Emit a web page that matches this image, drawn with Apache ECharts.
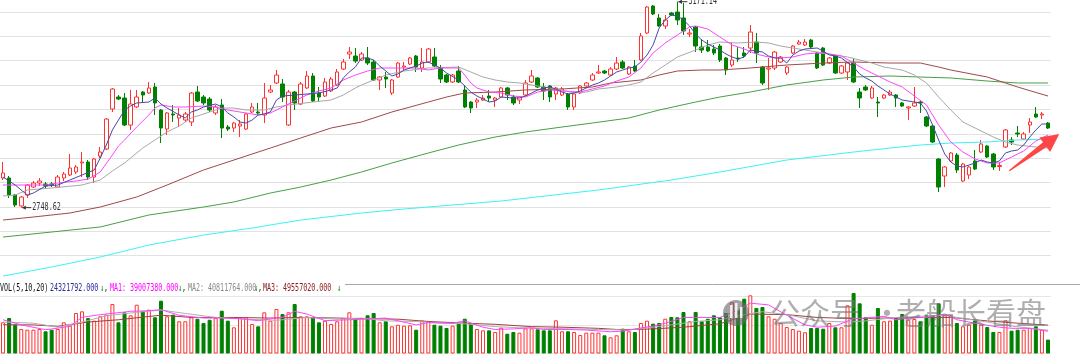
<!DOCTYPE html>
<html><head><meta charset="utf-8">
<script src="https://cdn.jsdelivr.net/npm/echarts@6/dist/echarts.min.js"></script>
<style>html,body{margin:0;padding:0;background:#fff;}#c{width:1080px;height:358px;}</style>
</head><body><div id="c"></div>
<script>
// ---- price candles (index 0..172) ----
const opens = [2809.4,2809.4,2774.5,2752.0,2774.5,2790.9,2799.1,2797.1,2797.1,2790.9,
2809.4,2815.6,2821.7,2840.2,2842.2,2811.4,2854.5,2868.9,2951.0,2975.6,
2973.5,2918.1,2955.1,2985.8,2983.8,2996.1,2948.9,2909.9,2940.7,2932.5,
2928.4,2924.3,2985.8,2975.6,2971.5,2942.8,2959.2,2914.0,2912.0,2916.1,
2909.9,2944.8,2944.8,2938.7,2985.8,3004.3,3002.3,2918.1,2985.8,2961.2,
2994.1,3018.7,2983.8,2977.6,2987.9,3000.2,3033.0,3063.8,3059.7,3051.5,
3055.6,3047.4,3010.5,3016.6,2983.8,3016.6,3037.1,3043.3,3059.7,3035.1,
3047.4,3057.7,3035.1,3020.7,3006.4,3028.9,2990.0,2965.3,2965.3,2969.4,
2977.6,2969.4,2975.6,2994.1,2975.6,2969.4,2979.7,3006.4,3014.6,2996.1,
2998.2,2981.7,2979.7,2981.7,2955.1,2983.8,2998.2,3010.5,3024.8,3028.9,
3020.7,3033.0,3047.4,3022.8,3039.2,3051.5,3106.9,3162.3,3137.7,3121.3,
3147.9,3150.0,3137.7,3104.8,3119.2,3078.2,3078.2,3074.1,3080.2,3055.6,
3041.2,3055.6,3065.9,3076.1,3088.4,3037.1,3033.0,3035.1,3047.4,3024.8,
3065.9,3084.3,3082.3,3092.5,3065.9,3076.1,3045.3,3059.7,3024.8,3026.9,
3045.3,2985.8,2996.1,2973.5,2965.3,2973.5,2979.7,2979.7,2963.3,2953.0,
2957.1,2965.3,2934.6,2916.1,2848.4,2813.5,2844.3,2856.6,2803.2,2815.6,
2844.3,2862.7,2875.1,2858.6,2833.0,2873.0,2887.4,2901.7,2889.4,2918.1,
2940.7,2938.7,2922.2];
const closes = [2819.7,2774.5,2754.0,2770.4,2795.0,2799.1,2803.2,2793.0,2795.0,2811.4,
2817.6,2829.9,2832.0,2842.2,2811.4,2848.4,2862.7,2930.4,2992.0,2971.5,
2918.1,2961.2,2975.6,2979.7,2994.1,2963.3,2912.0,2942.8,2938.7,2938.7,
2940.7,2983.8,2967.4,2963.3,2948.9,2955.1,2912.0,2909.9,2922.2,2920.2,
2940.7,2955.1,2942.8,2973.5,2990.0,3020.7,2975.6,2985.8,2963.3,3002.3,
3018.7,2967.4,2975.6,3006.4,3012.5,3026.9,3047.4,3067.9,3049.4,3063.8,
3045.3,3010.5,3016.6,3012.5,3010.5,3045.3,3039.2,3055.6,3037.1,3047.4,
3074.1,3039.2,3012.5,3006.4,3020.7,3006.4,2955.1,2953.0,2969.4,2973.5,
2973.5,2973.5,2994.1,2979.7,2963.3,2975.6,3004.3,3018.7,2996.1,2987.9,
2975.6,2994.1,2992.0,2955.1,2981.7,2998.2,3004.3,3020.7,3026.9,3024.8,
3033.0,3045.3,3035.1,3037.1,3028.9,3100.7,3160.2,3145.9,3121.3,3133.6,
3143.8,3133.6,3111.0,3106.9,3080.2,3072.0,3070.0,3065.9,3051.5,3031.0,
3051.5,3053.5,3059.7,3108.9,3065.9,3004.3,3035.1,3067.9,3057.7,3037.1,
3080.2,3088.4,3088.4,3078.2,3035.1,3041.2,3055.6,3024.8,3039.2,3045.3,
3006.4,2973.5,2990.0,2994.1,2963.3,2979.7,2985.8,2973.5,2957.1,2955.1,
2963.3,2963.3,2916.1,2883.3,2790.9,2832.0,2860.7,2825.8,2838.1,2832.0,
2827.9,2879.2,2852.5,2832.0,2835.1,2907.9,2883.3,2899.7,2899.7,2924.3,
2934.6,2940.7,2912.0];
const lows = [2805.3,2768.4,2749.9,2748.62,2768.4,2788.9,2793.0,2788.9,2790.9,2788.9,
2803.2,2813.5,2817.6,2811.4,2805.3,2799.1,2850.4,2866.8,2944.8,2969.4,
2916.1,2907.9,2953.0,2965.3,2981.7,2938.7,2881.2,2897.6,2924.3,2914.0,
2924.3,2916.1,2965.3,2959.2,2944.8,2938.7,2891.5,2905.8,2903.8,2893.5,
2907.9,2942.8,2938.7,2922.2,2983.8,3002.3,2965.3,2916.1,2948.9,2959.2,
2992.0,2965.3,2965.3,2975.6,2985.8,2998.2,3031.0,3053.5,3045.3,3049.4,
3041.2,3008.4,2990.0,2994.1,2979.7,3014.6,3031.0,3041.2,3026.9,3026.9,
3045.3,3037.1,3004.3,3004.3,3004.3,3004.3,2953.0,2942.8,2953.0,2967.4,
2965.3,2955.1,2973.5,2969.4,2959.2,2961.2,2977.6,3004.3,2994.1,2969.4,
2965.3,2969.4,2977.6,2948.9,2948.9,2981.7,2996.1,3008.4,3022.8,3022.8,
3018.7,3031.0,3033.0,3020.7,3026.9,3049.4,3104.8,3143.8,3119.2,3115.1,
3141.8,3123.3,3102.8,3098.7,3067.9,3065.9,3067.9,3061.8,3047.4,3020.7,
3037.1,3047.4,3055.6,3065.9,3045.3,3000.2,2990.0,3031.0,3045.3,3020.7,
3063.8,3082.3,3080.2,3076.1,3033.0,3039.2,3043.3,3022.8,3022.8,3010.5,
3004.3,2953.0,2987.9,2971.5,2934.6,2971.5,2977.6,2955.1,2955.1,2928.4,
2955.1,2942.8,2914.0,2881.2,2780.7,2790.9,2842.2,2819.7,2801.2,2807.3,
2825.8,2860.7,2850.4,2825.8,2823.8,2870.9,2877.1,2893.5,2887.4,2901.7,
2932.5,2930.4,2909.9];
const highs = [2842.2,2813.5,2776.6,2772.5,2797.1,2803.2,2809.4,2801.2,2801.2,2815.6,
2821.7,2858.6,2836.1,2862.7,2846.3,2850.4,2873.0,2932.5,2994.1,2979.7,
2983.8,2990.0,2990.0,2987.9,3006.4,3004.3,2951.0,2944.8,2959.2,2953.0,
2944.8,2985.8,2998.2,2979.7,2975.6,2959.2,2971.5,2918.1,2924.3,2928.4,
2942.8,2963.3,2963.3,3004.3,3000.2,3031.0,3012.5,2990.0,2987.9,3006.4,
3028.9,3024.8,2996.1,3014.6,3016.6,3033.0,3053.5,3078.2,3076.1,3067.9,
3078.2,3051.5,3018.7,3026.9,3012.5,3047.4,3047.4,3057.7,3061.8,3076.1,
3076.1,3076.1,3041.2,3022.8,3022.8,3039.2,3000.2,2967.4,2973.5,2979.7,
2990.0,2975.6,2996.1,2996.1,2979.7,2977.6,3010.5,3031.0,3016.6,3004.3,
3000.2,2996.1,2996.1,2983.8,2983.8,3000.2,3006.4,3024.8,3041.2,3031.0,
3037.1,3057.7,3051.5,3039.2,3051.5,3106.9,3162.3,3164.3,3145.9,3143.8,
3150.0,3171.14,3168.4,3115.1,3121.3,3094.6,3092.5,3082.3,3084.3,3057.7,
3088.4,3078.2,3078.2,3123.3,3106.9,3039.2,3055.6,3070.0,3059.7,3039.2,
3082.3,3092.5,3094.6,3094.6,3067.9,3078.2,3057.7,3061.8,3041.2,3047.4,
3055.6,2994.1,3000.2,2998.2,2975.6,2981.7,2990.0,2981.7,2965.3,2957.1,
2996.1,2969.4,2936.6,2918.1,2850.4,2834.0,2862.7,2860.7,2840.2,2834.0,
2866.8,2887.4,2877.1,2860.7,2842.2,2909.9,2893.5,2916.1,2903.8,2932.5,
2955.1,2944.8,2924.3];

// ---- volume, in millions ----
const volumesM = [54.5,62.0,50.3,42.8,41.6,41.6,42.8,38.8,41.6,42.8,
54.5,48.6,70.8,73.7,62.0,57.4,65.0,67.9,86.5,54.5,
72.0,66.8,85.3,73.7,76.6,63.3,92.3,65.0,67.9,56.3,
56.3,63.3,60.8,53.3,59.0,62.0,74.8,57.4,45.8,62.0,
63.3,51.6,47.5,72.0,57.4,77.8,69.0,72.0,86.5,65.0,
65.0,63.3,54.5,57.4,51.6,56.3,62.0,72.0,62.0,62.0,
66.8,70.8,54.5,56.3,47.5,50.3,48.6,49.3,41.6,57.4,
56.3,50.3,48.6,44.6,48.6,53.3,60.8,53.3,42.8,40.5,
40.5,37.6,45.1,34.6,37.6,36.4,44.0,44.0,42.3,40.5,
40.5,58.0,38.8,38.8,37.6,32.3,36.4,36.4,36.4,31.8,
28.3,31.8,43.4,38.8,37.6,53.3,57.4,52.1,53.3,60.8,
63.8,63.3,72.5,56.3,72.5,56.3,60.8,66.8,63.3,70.8,
89.5,75.5,95.8,101.7,79.5,81.3,65.0,60.8,53.3,46.3,
42.8,39.9,37.1,44.6,44.6,43.4,53.3,45.8,45.8,84.3,
105.8,87.7,63.3,50.3,79.5,56.3,57.4,62.0,69.0,59.0,
60.3,56.3,67.9,66.8,87.7,66.8,66.8,53.3,47.5,50.3,
58.0,50.3,46.3,37.6,37.6,58.0,39.9,41.6,41.6,44.6,
47.5,41.6,24.32];

// ---- moving averages: [candle index, value] ----
const ma5 = [[0,2811.4],[2,2795.0],[4,2774.5],[5,2778.6],[7,2793.0],[9,2795.0],[11,2805.3],[13,2815.6],[15,2825.8],[16,2850.4],[17,2877.1],[18,2907.9],[19,2928.4],[20,2948.9],[21,2957.1],[22,2963.3],[24,2965.3],[25,2973.5],[26,2961.2],[27,2953.0],[29,2938.7],[30,2932.5],[31,2944.8],[32,2948.9],[33,2955.1],[35,2961.2],[36,2955.1],[37,2942.8],[38,2934.6],[39,2924.3],[40,2922.2],[41,2928.4],[42,2938.7],[43,2940.7],[44,2944.8],[45,2969.4],[46,2977.6],[48,2979.7],[50,2981.7],[52,2983.8],[54,2990.0],[55,2994.1],[56,3014.6],[57,3026.9],[58,3037.1],[59,3055.6],[60,3055.6],[61,3051.5],[62,3039.2],[64,3018.7],[65,3022.8],[66,3031.0],[68,3039.2],[69,3045.3],[70,3047.4],[71,3041.2],[72,3035.1],[73,3024.8],[75,3010.5],[76,2998.2],[77,2985.8],[78,2977.6],[79,2971.5],[80,2965.3],[81,2967.4],[82,2975.6],[84,2973.5],[85,2973.5],[86,2977.6],[87,2983.8],[88,2990.0],[89,2994.1],[90,2996.1],[91,2992.0],[92,2985.8],[93,2981.7],[94,2983.8],[95,2987.9],[96,2994.1],[97,3000.2],[98,3004.3],[99,3010.5],[100,3018.7],[101,3026.9],[102,3031.0],[103,3035.1],[104,3037.1],[105,3047.4],[106,3061.8],[107,3082.3],[108,3117.2],[109,3133.6],[110,3143.8],[111,3141.8],[112,3133.6],[113,3121.3],[114,3104.8],[115,3092.5],[116,3084.3],[117,3078.2],[118,3072.0],[119,3063.8],[120,3057.7],[121,3053.5],[122,3057.7],[123,3072.0],[124,3069.9],[125,3067.9],[126,3059.7],[127,3055.6],[128,3055.6],[129,3045.3],[130,3061.8],[131,3069.9],[132,3074.1],[134,3076.1],[135,3069.9],[136,3061.8],[137,3059.7],[138,3055.6],[140,3037.1],[141,3022.8],[142,3014.6],[143,3008.4],[144,2998.2],[145,2990.0],[146,2981.7],[148,2969.4],[150,2965.3],[151,2963.3],[152,2947.0],[153,2918.1],[154,2887.4],[155,2858.6],[156,2842.2],[157,2834.0],[158,2832.0],[159,2836.1],[160,2840.2],[161,2846.3],[162,2842.2],[163,2840.2],[164,2844.3],[165,2860.7],[166,2864.8],[167,2866.8],[168,2877.1],[169,2893.5],[170,2907.9],[171,2920.2],[172,2920.2]];
const ma10 = [[0,2795.0],[4,2795.0],[7,2795.0],[9,2799.1],[12,2803.2],[14,2807.3],[16,2821.7],[18,2856.6],[19,2875.1],[20,2887.4],[22,2914.0],[24,2938.7],[25,2953.0],[26,2959.2],[28,2955.1],[30,2955.1],[33,2957.1],[35,2955.1],[37,2948.9],[40,2942.8],[42,2938.7],[44,2942.8],[46,2955.1],[48,2967.4],[50,2979.7],[52,2987.9],[54,2994.1],[56,3010.5],[58,3020.7],[60,3028.9],[62,3035.1],[65,3035.1],[68,3035.1],[70,3031.0],[72,3035.1],[75,3035.1],[76,3020.7],[77,3004.3],[78,2994.1],[80,2985.8],[82,2983.8],[84,2977.6],[86,2975.6],[88,2985.8],[90,2990.0],[92,2987.9],[95,2985.8],[97,2992.0],[99,2998.2],[101,3008.4],[103,3016.6],[105,3035.1],[107,3065.9],[109,3086.4],[111,3102.8],[113,3119.2],[114,3121.3],[116,3115.1],[118,3098.7],[120,3082.3],[122,3074.1],[124,3063.8],[126,3057.7],[128,3055.6],[130,3057.7],[132,3063.8],[134,3065.9],[136,3063.8],[138,3059.7],[140,3045.3],[142,3031.0],[144,3018.7],[146,3006.4],[148,2996.1],[150,2977.6],[152,2959.2],[154,2918.1],[156,2883.3],[158,2862.7],[160,2848.4],[162,2840.2],[164,2840.2],[166,2852.5],[168,2864.8],[170,2885.3],[172,2897.6]];
const ma20 = [[0,2772.5],[2,2774.5],[4,2784.8],[8,2788.9],[13,2795.0],[16,2805.3],[18,2823.8],[20,2840.2],[23,2870.9],[25,2887.4],[27,2903.8],[29,2916.1],[31,2932.5],[34,2944.8],[36,2953.0],[38,2953.0],[40,2948.9],[43,2948.9],[45,2955.1],[47,2959.2],[51,2965.3],[54,2969.4],[56,2979.7],[58,2994.1],[59,3000.2],[61,3010.5],[63,3020.7],[66,3028.9],[70,3035.1],[75,3037.1],[77,3026.9],[79,3016.6],[81,3010.5],[83,3006.4],[85,3004.3],[88,2998.2],[90,2994.1],[92,2990.0],[94,2983.8],[96,2985.8],[98,2992.0],[101,2996.1],[103,3000.2],[105,3006.4],[107,3024.8],[109,3041.2],[111,3057.7],[114,3072.0],[116,3082.3],[118,3088.4],[121,3086.4],[124,3088.4],[126,3086.4],[128,3080.2],[130,3076.1],[132,3072.0],[134,3067.9],[137,3061.8],[139,3057.7],[141,3051.5],[143,3045.3],[145,3037.1],[148,3031.0],[150,3020.7],[152,3004.3],[154,2975.6],[156,2948.9],[158,2924.3],[160,2912.0],[163,2893.5],[165,2883.3],[167,2877.1],[170,2873.0],[172,2870.9]];
const ma60 = [[0,2723.2],[5,2729.4],[11,2737.6],[16,2749.9],[22,2770.4],[27,2795.0],[33,2825.8],[38,2846.3],[44,2870.9],[49,2891.5],[54,2912.0],[59,2924.3],[64,2944.8],[70,2965.3],[73,2975.6],[76,2983.8],[81,2985.8],[86,2990.0],[92,2992.0],[97,2996.1],[100,3004.3],[105,3010.5],[108,3020.7],[111,3028.9],[115,3031.0],[118,3031.0],[123,3035.1],[129,3041.2],[135,3045.3],[140,3047.4],[146,3045.3],[151,3045.3],[154,3037.1],[156,3031.0],[162,3016.6],[167,2996.1],[172,2977.6]];
const ma120 = [[0,2688.3],[8,2698.6],[16,2708.9],[24,2733.5],[33,2749.9],[38,2760.2],[44,2778.6],[49,2790.9],[54,2805.3],[59,2821.7],[64,2840.2],[70,2860.7],[75,2877.1],[81,2893.5],[86,2903.8],[92,2914.0],[97,2922.2],[103,2932.5],[108,2948.9],[114,2965.3],[118,2975.6],[123,2985.8],[129,3000.2],[135,3010.5],[140,3016.6],[146,3018.7],[151,3016.6],[156,3014.6],[162,3008.4],[167,3004.3],[172,3004.3]];
const ma250 = [[0,2608.3],[8,2626.8],[16,2647.3],[24,2671.9],[33,2692.4],[41,2706.8],[49,2723.2],[59,2737.6],[66,2745.8],[82,2762.2],[98,2784.8],[110,2805.3],[118,2821.7],[129,2846.3],[140,2862.7],[146,2870.9],[151,2877.1],[156,2881.2],[162,2883.3],[167,2887.4],[172,2889.4]];

// ---- volume moving averages (millions) ----
const volMa5 = [[0,59],[3,50],[7,41.6],[8,42.8],[11,47.5],[13,63.3],[16,67.9],[21,73.7],[24,74.8],[26,76.6],[29,66.8],[33,62],[36,62],[39,60.8],[42,57.4],[46,63.3],[48,73.7],[50,69],[53,57.4],[57,59],[59,60],[63,62],[68,50],[70,54],[74,53],[76,57],[79,46],[81,42],[84,43],[87,45],[89,42],[93,42],[96,41],[100,38],[102,39],[104,43],[107,48],[109,53],[112,63],[114,63],[118,63],[121,76],[123,88],[126,85],[129,67],[132,50],[134,46],[137,48],[140,61],[142,62],[145,65],[147,59],[149,62],[152,63],[155,69],[157,59],[161,51],[164,46],[166,44],[169,44],[172,39.0]];
const volMa10 = [[0,55],[5,53],[9,46],[13,55],[17,66],[22,72],[26,76],[30,70],[35,63],[40,60],[45,58],[50,63],[55,60],[59,62],[63,57],[68,56],[72,53],[76,52],[81,47],[85,45],[89,44],[94,43],[98,42],[103,41],[107,46],[110,50],[114,56],[118,59],[122,68],[125,73],[129,68],[134,57],[139,55],[142,57],[147,63],[151,65],[155,67],[157,63],[162,55],[166,48],[170,43],[172,40.8]];
const volMa20 = [[0,50.3],[5,50],[9,47.5],[14,55],[19,59],[26,67],[31,63],[38,63],[44,62],[49,63],[55,62],[59,61],[65,60],[70,56],[76,53],[81,51],[87,47],[92,46],[98,44],[101,42],[104,42],[107,43],[112,46],[118,52],[123,69],[129,68],[134,63],[140,61],[145,62],[151,63],[156,63],[162,57],[167,53],[172,49.56]];

// ---- texts ----
const lowLabel = {index: 3, value: 2748.62, text: '2748.62'};
const highLabel = {index: 111, value: 3171.14, text: '3171.14'};
const volHeader = [
  {t:'VOL(5,10,20)', c:'#111111', x:0},
  {t:'24321792.000', c:'#2a2a9a', x:50},
  {t:'↓', c:'#008000', x:100}, {t:',', c:'#111111', x:104},
  {t:'MA1:', c:'#ff00ff', x:110},
  {t:'39007380.000', c:'#ff00ff', x:130},
  {t:'↓', c:'#008000', x:178}, {t:',', c:'#111111', x:182},
  {t:'MA2:', c:'#8a8a8a', x:188},
  {t:'40811764.000', c:'#8a8a8a', x:208},
  {t:'↓', c:'#008000', x:254}, {t:',', c:'#111111', x:258},
  {t:'MA3:', c:'#8b1a1a', x:263},
  {t:'49557020.000', c:'#8b1a1a', x:283},
  {t:'↓', c:'#008000', x:337}
];
const watermark = ['公众号', '·', '老船长看盘'];

const N = opens.length;
const categories = Array.from({length: N}, (_, i) => String(i + 1));
const UP = '#ff3232', DOWN = '#008000';

const chart = echarts.init(document.getElementById('c'), null, {renderer: 'canvas'});

function maLine(name, data, color, xi, yi) {
  return {name, type: 'line', xAxisIndex: xi, yAxisIndex: yi, data, showSymbol: false, symbol: 'none',
    clip: false, silent: true, smooth: false, lineStyle: {color, width: 1}, z: 3};
}

const gridLeft = -1.42, gridRight = 28.96;
const option = {
  animation: false,
  backgroundColor: '#ffffff',
  grid: [
    {left: gridLeft, right: gridRight, top: 12, height: 243.7},
    {left: gridLeft, right: gridRight, top: 296.3, height: 57.2}
  ],
  xAxis: [0, 1].map(g => ({type: 'category', gridIndex: g, data: categories, boundaryGap: true,
    axisLine: {show: false}, axisTick: {show: false}, axisLabel: {show: false}, splitLine: {show: false}})),
  yAxis: [
    {type: 'value', gridIndex: 0, min: 2650, max: 3150, interval: 50, scale: true,
      axisLine: {show: false}, axisTick: {show: false}, axisLabel: {show: false},
      splitLine: {lineStyle: {color: '#e2e2e2', width: 1}}},
    {type: 'value', gridIndex: 1, min: 0, max: 100, interval: 50,
      axisLine: {show: false}, axisTick: {show: false}, axisLabel: {show: false},
      splitLine: {lineStyle: {color: '#e6e6e6', width: 1}}}
  ],
  series: [
    {type: 'candlestick', xAxisIndex: 0, yAxisIndex: 0, clip: false, barWidth: 4,
      data: opens.map((o, i) => [o, closes[i], lows[i], highs[i]]),
      itemStyle: {color: '#ffffff', color0: DOWN, borderColor: UP, borderColor0: DOWN, borderWidth: 1}, z: 2},
    maLine('MA250', ma250, '#3ef2f2', 0, 0),
    maLine('MA120', ma120, '#46a046', 0, 0),
    maLine('MA60', ma60, '#a04848', 0, 0),
    maLine('MA20', ma20, '#a8a8a8', 0, 0),
    maLine('MA10', ma10, '#ff44ff', 0, 0),
    maLine('MA5', ma5, '#4848a8', 0, 0),
    {type: 'bar', xAxisIndex: 1, yAxisIndex: 1, barWidth: 4, clip: false,
      data: volumesM.map((v, i) => ({value: v, itemStyle: closes[i] >= opens[i]
        ? {color: '#ffffff', borderColor: UP, borderWidth: 1}
        : {color: DOWN, borderColor: DOWN, borderWidth: 1}})), z: 2},
    maLine('VMA20', volMa20, '#a04040', 1, 1),
    maLine('VMA10', volMa10, '#b0b0b0', 1, 1),
    maLine('VMA5', volMa5, '#ff44ff', 1, 1)
  ]
};
chart.setOption(option);

function extremeLabel(lbl) {
  const p = chart.convertToPixel({xAxisIndex: 0, yAxisIndex: 0}, [lbl.index, lbl.value]);
  const x = p[0] + 1, y = p[1];
  return [
    {type: 'line', shape: {x1: x, y1: y, x2: x + 9, y2: y}, style: {stroke: '#333', lineWidth: 1}, z: 50},
    {type: 'polygon', shape: {points: [[x, y], [x + 3.5, y - 2.2], [x + 3.5, y + 2.2]]}, style: {fill: '#333'}, z: 50},
    {type: 'text', x: x + 10, y: y, scaleX: 0.68, z: 50,
      style: {text: lbl.text, fill: '#333', fontSize: 10, fontFamily: 'DejaVu Sans Mono', verticalAlign: 'middle'}}
  ];
}

const graphics = [];
graphics.push({type: 'line', shape: {x1: 345, y1: 284.5, x2: 1080, y2: 284.5}, style: {stroke: '#a8a8a8', lineWidth: 1}, z: 1});
volHeader.forEach(s => graphics.push({type: 'text', x: s.x, y: 288.5, scaleX: 0.67, z: 50,
  style: {text: s.t, fill: s.c, fontSize: 10, fontFamily: 'DejaVu Sans Mono', verticalAlign: 'middle'}}));
extremeLabel(lowLabel).forEach(g => graphics.push(g));
extremeLabel(highLabel).forEach(g => graphics.push(g));
// red arrow annotation
graphics.push({type: 'polygon', z: 60, shape: {points: [[1009.7,171.2],[1046.6,147.1],[1050.1,152.0],[1059.3,134],[1039.5,137.4],[1043.0,142.3],[1008.9,170.2]]},
  style: {fill: '#ff4646'}});
// watermark
graphics.push({type: 'circle', z: 70, shape: {cx: 736, cy: 313, r: 13}, style: {fill: 'rgba(105,105,105,0.62)'}});
graphics.push({type: 'rect', z: 71, shape: {x: 730, y: 305, width: 2.5, height: 13}, style: {fill: 'rgba(255,255,255,0.85)'}});
graphics.push({type: 'rect', z: 71, shape: {x: 735, y: 303, width: 2.5, height: 15}, style: {fill: 'rgba(255,255,255,0.85)'}});
graphics.push({type: 'rect', z: 71, shape: {x: 740, y: 307, width: 2.5, height: 11}, style: {fill: 'rgba(255,255,255,0.85)'}});
graphics.push({type: 'text', x: 770, y: 313, z: 70, style: {text: watermark[0], fill: 'rgba(120,120,120,0.6)', fontSize: 30, fontFamily: 'Noto Sans CJK SC', verticalAlign: 'middle'}});
graphics.push({type: 'text', x: 872, y: 313, z: 70, style: {text: watermark[1], fill: 'rgba(120,120,120,0.6)', fontSize: 30, fontFamily: 'Noto Sans CJK SC', verticalAlign: 'middle'}});
graphics.push({type: 'text', x: 896, y: 313, z: 70, style: {text: watermark[2], fill: 'rgba(120,120,120,0.6)', fontSize: 30, fontFamily: 'Noto Sans CJK SC', verticalAlign: 'middle'}});
chart.setOption({graphic: graphics});
</script>
</body></html>
